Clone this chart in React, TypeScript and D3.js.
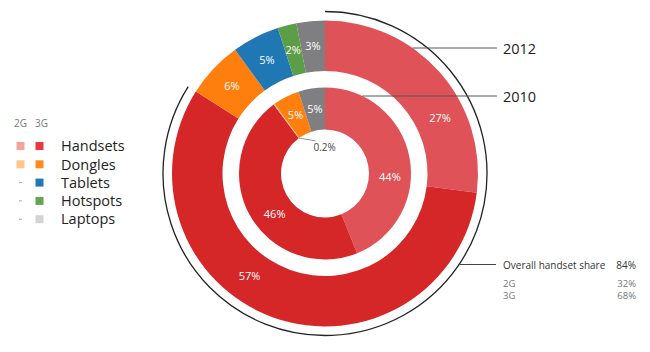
import * as d3 from 'd3';

// 2012 (outer ring) and 2010 (inner ring) device shares, clockwise from 12 o'clock
const outerNames = ['2G Handsets', '3G Handsets', '3G Dongles', '3G Tablets', '3G Hotspots', '3G Laptops'];
const outerValues = [27, 57, 6, 5, 2, 3];
const innerNames = ['2G Handsets', '3G Handsets', '2G Dongles', '3G Dongles', '3G Laptops'];
const innerValues = [44, 46, 0.2, 5, 5];

const legendNames = ['Handsets', 'Dongles', 'Tablets', 'Hotspots', 'Laptops'];
const legendHas2G = [true, true, false, false, false];

const handsetRows = ['Overall handset share', '2G', '3G'];
const handsetValues = ['84%', '32%', '68%'];

const sliceColor: Record<string, string> = {
    '2G Handsets': '#df5257',
    '3G Handsets': '#d62728',
    '2G Dongles': '#ffbb78',
    '3G Dongles': '#ff7f0e',
    '3G Tablets': '#1f77b4',
    '3G Hotspots': '#5c9d48',
    '3G Laptops': '#7f7f82',
};
const legend2G = ['#f4a39b', '#ffc48c'];
const legend3G = ['#e8393c', '#ff8a1f', '#1f77b4', '#62a552', '#d4d4d6'];

// where along each slice the percentage sits (0.5 = middle)
const outerLabelAt = [0.66, 0.58, 0.5, 0.5, 0.5, 0.5];
const innerLabelAt = [0.59, 0.44, 0.5, 0.5, 0.5];

const FONT = '"Open Sans", "DejaVu Sans", sans-serif';

export default function App() {
    const width = 650;
    const height = 352;
    const cx = 325;
    const cy = 173.5;

    const outerR = [102.5, 153];
    const innerR = [44, 86];
    const bracketR = 162;

    const pie = d3.pie<number>().sort(null).value(d => d);
    const outerArcs = pie(outerValues);
    const innerArcs = pie(innerValues);

    const outerArc = d3.arc<d3.PieArcDatum<number>>().innerRadius(outerR[0]).outerRadius(outerR[1]);
    const innerArc = d3.arc<d3.PieArcDatum<number>>().innerRadius(innerR[0]).outerRadius(innerR[1]);

    const polar = (r: number, a: number): [number, number] => [r * Math.sin(a), -r * Math.cos(a)];
    const labelPos = (a: d3.PieArcDatum<number>, frac: number, r0: number, r1: number) =>
        polar((r0 + r1) / 2, a.startAngle + frac * (a.endAngle - a.startAngle));

    // bracket over the handset part of 2012
    const handsetEnd = outerArcs[1].endAngle;
    const bracket = d3.arc()({ innerRadius: bracketR, outerRadius: bracketR, startAngle: 0, endAngle: handsetEnd }) || '';

    const yearLabels = [
        { text: '2012', r: outerR[1], y: 48 },
        { text: '2010', r: innerR[1], y: 96 },
    ];
    const labelX = 503;

    // little slice with an outside label
    const tiny = innerArcs[2];
    const tinyA = (tiny.startAngle + tiny.endAngle) / 2;
    const tinyP0 = polar(innerR[0], tinyA);
    const tinyP1 = polar(innerR[0] - 10, tinyA + 0.35);

    const handsetY = 264.5;
    const hx0 = cx + Math.sqrt(bracketR * bracketR - (handsetY - cy) * (handsetY - cy));
    const rowY = [handsetY + 4, 287, 299];

    const legendY = d3.scaleLinear().domain([0, legendNames.length - 1]).range([146, 219.2]);

    return (
        <svg width={width} height={height} style={{ position: 'absolute', left: 0, top: 0, fontFamily: FONT }}>
            <g transform={`translate(${cx},${cy})`}>
                {outerArcs.map((a, i) => (
                    <path key={'o' + i} d={outerArc(a) || ''} fill={sliceColor[outerNames[i]]} />
                ))}
                {innerArcs.map((a, i) => (
                    <path key={'i' + i} d={innerArc(a) || ''} fill={sliceColor[innerNames[i]]} />
                ))}
                <path d={bracket} fill="none" stroke="#222" strokeWidth={1.3} />

                {outerArcs.map((a, i) => {
                    const [x, y] = labelPos(a, outerLabelAt[i], outerR[0], outerR[1]);
                    return (
                        <text key={'ol' + i} x={x} y={y} dy="0.35em" textAnchor="middle" fill="#fff" fontSize={11}>
                            {outerValues[i]}%
                        </text>
                    );
                })}
                {innerArcs.map((a, i) => {
                    if (i === 2) return null;
                    const [x, y] = labelPos(a, innerLabelAt[i], innerR[0], innerR[1]);
                    return (
                        <text key={'il' + i} x={x} y={y} dy="0.35em" textAnchor="middle" fill="#fff" fontSize={11}>
                            {innerValues[i]}%
                        </text>
                    );
                })}
                <line x1={tinyP0[0]} y1={tinyP0[1]} x2={tinyP1[0]} y2={tinyP1[1]} stroke="#777" strokeWidth={0.8} />
                <text x={tinyP1[0] - 2} y={tinyP1[1] + 10} fill="#444" fontSize={10}>
                    {innerValues[2]}%
                </text>
            </g>

            {yearLabels.map(l => {
                const dy = l.y - cy;
                const x0 = cx + Math.sqrt(l.r * l.r - dy * dy);
                return (
                    <g key={l.text}>
                        <line x1={x0} y1={l.y} x2={497} y2={l.y} stroke="#555" strokeWidth={1} />
                        <text x={labelX} y={l.y + 6} fontSize={14.5} fill="#222">{l.text}</text>
                    </g>
                );
            })}

            <line x1={hx0} y1={handsetY} x2={496} y2={handsetY} stroke="#444" strokeWidth={1} />
            {handsetRows.map((r, i) => (
                <g key={r} fontSize={i === 0 ? 10 : 9.5} fill={i === 0 ? '#333' : '#777'}>
                    <text x={labelX} y={rowY[i]}>{r}</text>
                    <text x={636} y={rowY[i]} textAnchor="end">{handsetValues[i]}</text>
                </g>
            ))}

            <g>
                <text x={14} y={127} fontSize={10} fill="#777">2G</text>
                <text x={35} y={127} fontSize={10} fill="#777">3G</text>
                {legendNames.map((n, i) => {
                    const y = legendY(i);
                    return (
                        <g key={n}>
                            {legendHas2G[i] ? (
                                <rect x={16.5} y={y - 4} width={8} height={8} fill={legend2G[i]} />
                            ) : (
                                <line x1={19} x2={22} y1={y} y2={y} stroke="#aaa" strokeWidth={1} />
                            )}
                            <rect x={35.5} y={y - 4} width={8} height={8} fill={legend3G[i]} />
                            <text x={61} y={y} dy="0.36em" fontSize={14.5} fill="#222">{n}</text>
                        </g>
                    );
                })}
            </g>
        </svg>
    );
}
